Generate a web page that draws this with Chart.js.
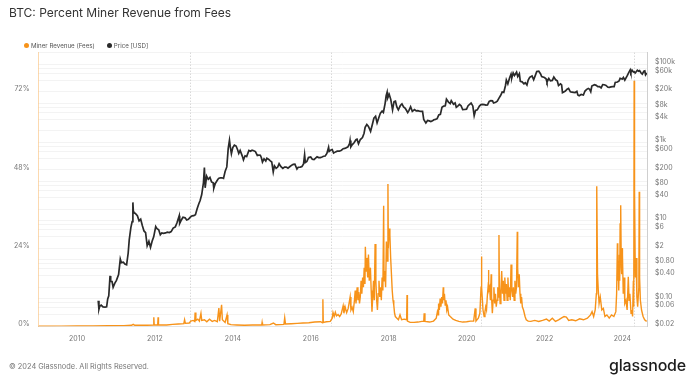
<!DOCTYPE html>
<html>
<head>
<meta charset="utf-8">
<script src="https://cdn.jsdelivr.net/npm/chart.js@4.4.1/dist/chart.umd.min.js"></script>
<style>
  html, body { margin: 0; padding: 0; background: #fff; }
  #wrap { position: relative; width: 695px; height: 380px; overflow: hidden; font-family: Inter, "Noto Sans", sans-serif; }
  #c { position: absolute; left: 0; top: 0; }
  #title { position: absolute; left: 9px; top: 5px; font-size: 12px; color: #333; white-space: nowrap; }
  #legend { position: absolute; left: 24px; top: 42px; font-size: 6.2px; color: #555; white-space: nowrap; display: flex; gap: 12px; }
  #legend span.item { display: flex; align-items: center; gap: 2px; }
  #legend span.dot { display: inline-block; width: 5px; height: 5px; border-radius: 50%; }
  #footer { position: absolute; left: 9px; top: 362px; font-size: 7.4px; color: #777; white-space: nowrap; }
  #logo { position: absolute; right: 9px; top: 355px; font-size: 16px; font-weight: 500; color: #1c1c1c; letter-spacing: -0.2px; white-space: nowrap; }
</style>
</head>
<body>
<div id="wrap">
  <canvas id="c" width="695" height="380"></canvas>
  <div id="title">BTC: Percent Miner Revenue from Fees</div>
  <div id="legend"></div>
  <div id="footer">© 2024 Glassnode. All Rights Reserved.</div>
  <div id="logo">glassnode</div>
</div>
<script>
// ---------- DATA ----------
const seriesNames = ["Miner Revenue (Fees)", "Price [USD]"];

// Miner revenue share from fees (%), by decimal year
const feeTimes = [
 2009.01,2009.30,2009.60,2010.00,2010.40,2010.80,2011.20,2011.40,2011.44,2011.48,2011.80,2011.96,2011.97,2011.98,
 2012.07,2012.08,2012.09,2012.30,2012.45,2012.60,2012.74,2012.76,2012.78,2012.88,2012.92,2012.98,
 2013.02,2013.03,2013.05,2013.10,2013.14,2013.18,2013.20,2013.27,2013.33,2013.40,2013.47,2013.53,2013.60,2013.64,2013.66,
 2013.71,2013.73,2013.80,2013.85,2013.87,2013.95,2014.10,2014.30,2014.50,2014.74,2014.75,2014.76,2014.95,
 2015.04,2015.10,2015.31,2015.33,2015.35,2015.50,2015.65,2015.80,2015.95,2016.10,2016.25,2016.30,2016.31,2016.32,2016.40,
 2016.50,2016.55,2016.57,2016.60,2016.63,2016.66,2016.70,2016.74,2016.78,2016.83,2016.85,2016.88,2016.92,2016.96,
 2017.01,2017.03,2017.06,2017.09,2017.12,2017.14,2017.16,2017.19,2017.21,2017.23,2017.25,2017.27,2017.29,2017.31,
 2017.33,2017.35,2017.37,2017.39,2017.40,2017.42,2017.44,2017.46,2017.48,2017.50,2017.53,2017.55,2017.57,2017.59,
 2017.61,2017.63,2017.65,2017.67,2017.69,2017.71,2017.73,2017.75,2017.77,2017.79,2017.81,2017.83,2017.85,2017.87,
 2017.88,2017.90,2017.92,2017.94,2017.96,2017.98,2017.99,2018.01,2018.03,2018.05,2018.07,2018.09,2018.11,2018.13,
 2018.15,2018.17,2018.21,2018.25,2018.29,2018.33,2018.40,2018.46,2018.47,2018.48,2018.55,2018.65,2018.75,2018.85,
 2018.90,2018.91,2018.93,2019.05,2019.15,2019.22,2019.25,2019.27,2019.28,2019.30,2019.32,2019.34,2019.36,2019.38,
 2019.40,2019.41,2019.43,2019.45,2019.47,2019.49,2019.51,2019.54,2019.58,2019.65,2019.72,2019.80,2019.90,2020.00,
 2020.10,2020.18,2020.22,2020.24,2020.30,2020.34,2020.37,2020.38,2020.39,2020.42,2020.45,2020.47,2020.49,2020.51,
 2020.53,2020.55,2020.56,2020.57,2020.59,2020.61,2020.63,2020.64,2020.66,2020.68,2020.70,2020.72,2020.74,2020.76,
 2020.78,2020.80,2020.82,2020.83,2020.84,2020.86,2020.88,2020.90,2020.92,2020.94,2020.96,2020.98,2021.00,2021.02,
 2021.04,2021.06,2021.08,2021.10,2021.12,2021.14,2021.16,2021.18,2021.20,2021.22,2021.24,2021.26,2021.28,2021.30,
 2021.31,2021.33,2021.35,2021.37,2021.39,2021.41,2021.43,2021.46,2021.48,2021.50,2021.53,2021.58,2021.65,2021.75,
 2021.85,2021.95,2022.05,2022.12,2022.20,2022.28,2022.36,2022.44,2022.50,2022.56,2022.62,2022.70,2022.80,2022.90,
 2023.00,2023.10,2023.18,2023.22,2023.26,2023.30,2023.33,2023.34,2023.36,2023.38,2023.40,2023.43,2023.47,2023.51,
 2023.55,2023.60,2023.66,2023.72,2023.78,2023.83,2023.85,2023.87,2023.88,2023.89,2023.90,2023.91,2023.92,2023.93,
 2023.94,2023.95,2023.96,2023.97,2023.98,2023.99,2024.00,2024.02,2024.04,2024.06,2024.09,2024.12,2024.15,2024.17,
 2024.19,2024.22,2024.24,2024.26,2024.28,2024.29,2024.30,2024.31,2024.33,2024.35,2024.37,2024.39,2024.42,2024.43,
 2024.44,2024.46,2024.49,2024.53,2024.57,2024.62
];
const feeValues = [
 0.0,0.02,0.05,0.08,0.1,0.15,0.2,0.3,0.6,0.3,0.3,0.4,2.8,0.4,
 0.4,2.8,0.4,0.4,0.6,0.7,0.8,2.0,0.9,1.0,1.6,1.8,
 1.5,4.2,1.8,2.2,1.6,4.0,1.8,2.0,1.4,2.2,1.5,1.8,1.4,5.6,1.6,
 6.6,2.0,1.2,3.5,0.8,0.5,0.4,0.3,0.4,0.4,1.2,0.4,0.5,
 1.0,0.5,0.6,2.6,0.7,0.8,0.9,1.0,1.1,1.3,1.4,1.1,8.3,1.2,1.4,
 1.5,2.5,4.2,3.0,4.3,3.2,3.6,3.0,3.8,6.3,4.0,6.0,4.2,5.5,
 9.0,5.0,5.8,4.5,8.0,11.0,7.0,12.0,8.0,10.5,7.0,9.0,14.0,10.0,
 15.0,12.0,18.0,13.0,24.4,17.0,21.0,15.0,22.0,14.0,18.0,11.0,4.5,9.0,
 14.0,8.0,25.3,14.0,8.0,5.0,10.0,14.0,9.0,12.0,8.0,15.0,11.0,37.0,
 14.0,17.0,12.0,26.0,20.0,43.7,24.0,30.0,28.0,21.0,16.0,11.0,8.0,6.5,
 4.0,3.0,2.5,2.0,3.5,2.0,2.2,2.0,9.6,1.6,1.2,1.2,1.3,1.5,
 1.6,4.0,1.5,1.3,1.6,2.5,4.5,3.5,7.0,5.0,8.5,6.0,9.0,7.0,
 12.0,8.0,10.0,6.5,8.0,5.0,6.0,3.5,3.0,2.2,1.8,1.5,1.3,1.4,
 1.6,1.6,5.5,1.6,2.5,4.0,12.0,21.4,12.0,5.0,3.0,4.5,6.0,5.0,
 9.0,12.0,17.3,11.0,12.0,8.0,16.0,9.0,4.0,8.0,12.0,7.0,10.0,6.0,
 8.0,12.0,9.0,28.0,12.0,7.0,11.0,17.0,10.0,14.0,8.0,15.0,10.0,13.0,
 8.0,15.0,9.0,12.0,8.0,19.0,11.0,9.0,12.0,8.0,14.0,10.0,12.0,29.0,
 18.0,12.0,16.0,10.0,7.0,9.0,6.0,5.0,4.0,3.0,2.0,1.6,1.5,1.8,
 1.5,1.8,2.2,1.6,2.5,1.5,2.0,2.6,3.0,2.8,1.8,2.0,1.7,2.3,
 2.0,2.5,3.5,4.5,3.0,5.0,10.0,43.0,16.0,11.0,7.0,9.0,5.0,5.5,
 3.0,3.5,2.5,3.5,3.0,4.5,10.0,25.5,14.0,20.0,18.0,11.0,22.0,14.0,
 31.6,20.0,37.2,18.0,16.0,24.0,22.0,10.0,15.0,7.0,8.0,5.0,15.2,8.0,
 10.0,4.0,5.0,3.0,14.0,6.0,75.4,42.0,15.0,21.0,9.0,6.0,12.0,41.3,
 15.0,8.0,5.0,3.0,2.0,1.5
];

// BTC price (USD)
const priceDates = [
 "2010-07-18","2010-07-25","2010-08-01","2010-08-15","2010-09-01","2010-09-20","2010-10-05","2010-10-15","2010-10-25","2010-11-06",
 "2010-11-12","2010-11-25","2010-12-05","2010-12-20","2011-01-05","2011-01-25","2011-02-10","2011-02-20","2011-03-10","2011-03-25",
 "2011-04-10","2011-04-25","2011-05-05","2011-05-20","2011-06-01","2011-06-08","2011-06-12","2011-06-20","2011-07-01","2011-07-20",
 "2011-08-05","2011-08-20","2011-09-05","2011-09-20","2011-10-05","2011-10-20","2011-11-05","2011-11-20","2011-12-05","2011-12-20",
 "2012-01-08","2012-01-20","2012-02-05","2012-02-20","2012-03-05","2012-03-20","2012-04-10","2012-04-25","2012-05-15","2012-06-01",
 "2012-06-20","2012-07-10","2012-07-25","2012-08-16","2012-08-20","2012-09-05","2012-09-20","2012-10-10","2012-10-25","2012-11-10",
 "2012-11-28","2012-12-15","2012-12-31","2013-01-15","2013-01-31","2013-02-15","2013-02-28","2013-03-15","2013-03-31","2013-04-09",
 "2013-04-16","2013-04-30","2013-05-15","2013-05-31","2013-06-15","2013-06-30","2013-07-06","2013-07-20","2013-08-05","2013-08-20",
 "2013-09-05","2013-09-20","2013-10-05","2013-10-20","2013-11-05","2013-11-18","2013-11-30","2013-12-07","2013-12-18","2013-12-31",
 "2014-01-15","2014-01-31","2014-02-15","2014-02-25","2014-03-10","2014-03-31","2014-04-10","2014-04-25","2014-05-10","2014-05-31",
 "2014-06-15","2014-06-30","2014-07-15","2014-07-31","2014-08-18","2014-08-31","2014-09-15","2014-09-25","2014-10-05","2014-10-20",
 "2014-11-05","2014-11-15","2014-11-30","2014-12-15","2014-12-31","2015-01-14","2015-01-25","2015-02-10","2015-02-25","2015-03-10",
 "2015-03-25","2015-04-14","2015-04-30","2015-05-15","2015-06-01","2015-06-20","2015-07-10","2015-07-20","2015-08-05","2015-08-24",
 "2015-09-05","2015-09-25","2015-10-10","2015-10-25","2015-11-04","2015-11-11","2015-11-25","2015-12-10","2015-12-31","2016-01-15",
 "2016-01-31","2016-02-15","2016-02-29","2016-03-15","2016-03-31","2016-04-15","2016-04-30","2016-05-15","2016-05-31","2016-06-16",
 "2016-06-22","2016-07-09","2016-07-20","2016-08-02","2016-08-20","2016-09-05","2016-09-25","2016-10-15","2016-10-31","2016-11-15",
 "2016-11-30","2016-12-15","2016-12-31","2017-01-04","2017-01-11","2017-01-25","2017-02-10","2017-02-28","2017-03-10","2017-03-24",
 "2017-04-10","2017-04-30","2017-05-15","2017-05-25","2017-06-10","2017-06-25","2017-07-15","2017-07-31","2017-08-15","2017-08-31",
 "2017-09-14","2017-09-30","2017-10-15","2017-10-31","2017-11-12","2017-11-28","2017-12-08","2017-12-17","2017-12-22","2018-01-06",
 "2018-01-20","2018-02-06","2018-02-20","2018-03-05","2018-03-18","2018-04-01","2018-04-20","2018-05-05","2018-05-20","2018-06-05",
 "2018-06-28","2018-07-10","2018-07-25","2018-08-10","2018-08-31","2018-09-15","2018-09-30","2018-10-15","2018-10-31","2018-11-14",
 "2018-11-25","2018-12-15","2018-12-31","2019-01-15","2019-01-31","2019-02-15","2019-02-28","2019-03-15","2019-03-31","2019-04-15",
 "2019-04-30","2019-05-15","2019-05-31","2019-06-15","2019-06-26","2019-07-15","2019-07-31","2019-08-10","2019-08-31","2019-09-15",
 "2019-09-26","2019-10-10","2019-10-26","2019-11-10","2019-11-25","2019-12-15","2019-12-31","2020-01-15","2020-02-12","2020-02-28",
 "2020-03-12","2020-03-25","2020-04-10","2020-04-30","2020-05-15","2020-05-31","2020-06-15","2020-06-30","2020-07-15","2020-07-31",
 "2020-08-15","2020-08-31","2020-09-10","2020-09-30","2020-10-15","2020-10-31","2020-11-15","2020-11-30","2020-12-15","2020-12-31",
 "2021-01-08","2021-01-22","2021-02-08","2021-02-21","2021-02-28","2021-03-13","2021-03-25","2021-04-14","2021-04-25","2021-05-10",
 "2021-05-19","2021-06-05","2021-06-22","2021-07-05","2021-07-20","2021-08-01","2021-08-15","2021-09-06","2021-09-21","2021-10-05",
 "2021-10-20","2021-11-08","2021-11-25","2021-12-05","2021-12-31","2022-01-15","2022-01-24","2022-02-10","2022-02-25","2022-03-15",
 "2022-03-29","2022-04-15","2022-04-30","2022-05-12","2022-05-31","2022-06-10","2022-06-18","2022-06-30","2022-07-15","2022-07-31",
 "2022-08-14","2022-08-31","2022-09-15","2022-09-30","2022-10-15","2022-10-31","2022-11-09","2022-11-21","2022-12-10","2022-12-31",
 "2023-01-15","2023-01-31","2023-02-15","2023-02-28","2023-03-10","2023-03-20","2023-04-14","2023-04-30","2023-05-15","2023-05-31",
 "2023-06-15","2023-06-30","2023-07-15","2023-07-31","2023-08-18","2023-08-31","2023-09-15","2023-09-30","2023-10-15","2023-10-25",
 "2023-11-15","2023-11-30","2023-12-10","2023-12-31","2024-01-10","2024-01-23","2024-02-15","2024-02-29","2024-03-14","2024-03-20",
 "2024-03-31","2024-04-13","2024-04-20","2024-04-30","2024-05-20","2024-05-31","2024-06-10","2024-06-24","2024-07-05","2024-07-20",
 "2024-07-29","2024-08-05","2024-08-14","2024-08-18"
];
const priceValues = [
 0.09,0.055,0.065,0.07,0.063,0.062,0.063,0.10,0.12,0.39,
 0.28,0.28,0.20,0.25,0.30,0.42,1.05,0.85,0.87,0.78,
 0.75,1.5,3.3,6.7,9.5,29.6,18,16,15.4,13.5,
 10,11,7.5,5.5,5.0,2.3,3.0,2.1,3.0,3.9,
 7.1,6.3,5.9,4.4,4.9,4.8,4.9,5.1,5.0,5.3,
 6.5,7.0,8.8,13.5,8.5,10.5,12.3,11.9,10.5,10.9,
 12.4,13.4,13.5,14.3,20.4,27,33,47,93,230,
 70,139,115,129,99,94,68,90,106,122,
 126,126,122,183,239,700,1150,800,520,750,
 860,820,650,530,630,445,360,460,440,630,
 600,640,620,590,470,480,475,410,320,385,
 340,400,378,345,320,178,255,220,237,291,
 247,219,236,237,223,245,270,278,280,211,
 235,236,245,285,490,310,330,415,430,375,
 370,400,437,416,416,430,448,456,530,760,
 595,650,665,540,580,605,605,640,700,710,
 745,780,960,1130,780,890,990,1190,1230,930,
 1200,1350,1740,2450,2900,2600,1950,2870,4200,4700,
 3200,4340,5700,6400,5900,10000,16000,19500,13800,17100,
 12800,6900,11200,11500,8200,6900,8900,9800,8200,7600,
 5900,6700,8300,6300,7000,6500,6600,6400,6300,6300,
 3900,3200,3700,3600,3450,3600,3850,3950,4100,5100,
 5300,8000,8600,8800,12900,10900,10000,11800,9600,10300,
 8000,8600,9500,8800,7000,7100,7200,8800,10300,8700,
 4900,6700,6900,8600,9400,9500,9400,9100,9200,11300,
 11900,11700,10300,10800,11500,13800,16000,19700,19300,29000,
 40000,32000,46000,57000,45000,61000,52000,63500,49000,58000,
 37000,36000,32000,34000,29800,40000,47000,51000,40600,51000,
 66000,67500,57000,49000,46300,43000,35000,44000,38000,39000,
 47500,40500,38000,28900,31800,30000,19000,19800,20800,23300,
 24400,20000,19700,19400,19100,20500,16600,15800,17100,16500,
 20900,23100,24400,23100,20100,28000,30400,29200,27200,27200,
 25100,30500,30300,29200,26100,25900,26600,27000,27100,34500,
 35500,37700,44000,42300,46600,39500,51800,62000,73000,62000,
 71300,64000,64900,60600,71000,67500,69600,60300,56700,67000,
 68200,54000,58700,58900
];

// Halving dates (dotted vertical markers)
const halvingDates = ["2012-11-28","2016-07-09","2020-05-11","2024-04-20"];

// Axis ticks
const xTickYears = [2010,2012,2014,2016,2018,2020,2022,2024];
const pctGridValues = [0,12,24,36,48,60,72,84];
const pctLabelValues = [0,24,48,72];
const priceGridValues = [0.02,0.04,0.06,0.08,0.1,0.2,0.4,0.6,0.8,1,2,4,6,8,10,20,40,60,80,100,200,400,600,800,1000,
  2000,4000,6000,8000,10000,20000,40000,60000,80000,100000,200000];
const priceLabelValues = [0.02,0.06,0.1,0.4,0.8,2,6,10,40,80,200,600,1000,4000,8000,20000,60000,100000];

// ---------- HELPERS ----------
function toYear(s) {
  const d = Date.parse(s + "T00:00:00Z");
  const y = parseInt(s.slice(0, 4), 10);
  const a = Date.UTC(y, 0, 1), b = Date.UTC(y + 1, 0, 1);
  return y + (d - a) / (b - a);
}
function fmtPrice(v) {
  if (v >= 1000) return "$" + (v / 1000) + "k";
  if (v < 1) return "$" + v.toFixed(2);
  return "$" + v;
}
const ORANGE = "#f7931a";
const DARK = "#2a2a2a";

const feeData = feeTimes.map((t, i) => ({ x: t, y: feeValues[i] }));
const priceData = priceDates.map((d, i) => ({ x: toYear(d), y: priceValues[i] }));

const halvingPlugin = {
  id: "halvings",
  beforeDatasetsDraw(chart) {
    const { ctx, chartArea, scales } = chart;
    ctx.save();
    ctx.strokeStyle = "#c8c8c8";
    ctx.lineWidth = 1;
    ctx.setLineDash([1, 2]);
    halvingDates.forEach(d => {
      const px = Math.round(scales.x.getPixelForValue(toYear(d))) + 0.5;
      ctx.beginPath();
      ctx.moveTo(px, chartArea.top);
      ctx.lineTo(px, chartArea.bottom);
      ctx.stroke();
    });
    ctx.restore();
  }
};

const tickFont = { family: "Inter", size: 7 };

const chart = new Chart(document.getElementById("c"), {
  type: "line",
  data: {
    datasets: [
      { label: seriesNames[0], data: feeData, yAxisID: "y", borderColor: ORANGE, backgroundColor: ORANGE,
        borderWidth: 1.4, pointRadius: 0, tension: 0, order: 2 },
      { label: seriesNames[1], data: priceData, yAxisID: "y1", borderColor: DARK, backgroundColor: DARK,
        borderWidth: 1.7, pointRadius: 0, tension: 0, order: 1 }
    ]
  },
  options: {
    responsive: false,
    animation: false,
    devicePixelRatio: 1,
    layout: { padding: { top: 52.7, left: 0, right: 0, bottom: 0 } },
    plugins: { legend: { display: false }, title: { display: false }, tooltip: { enabled: false } },
    scales: {
      x: {
        type: "linear",
        min: 2009.01,
        max: 2024.63,
        afterBuildTicks: s => { s.ticks = xTickYears.map(v => ({ value: v })); },
        afterFit: s => { s.height = 53.7; },
        grid: { display: false, drawTicks: false },
        border: { display: true, color: "#e3e3e3" },
        ticks: { font: tickFont, color: "#777", padding: 8, maxRotation: 0, autoSkip: false,
          callback: v => String(v) }
      },
      y: {
        type: "linear",
        position: "left",
        min: 0,
        max: 84,
        afterBuildTicks: s => { s.ticks = pctGridValues.map(v => ({ value: v })); },
        afterFit: s => { s.width = 38.5; },
        grid: { color: "#e6e6e6", drawTicks: false },
        border: { display: true, color: "rgba(247,147,26,0.35)" },
        ticks: { font: tickFont, color: "#777", padding: 9, labelOffset: -2.5, autoSkip: false,
          callback: v => pctLabelValues.includes(v) ? v + "%" : "" }
      },
      y1: {
        type: "logarithmic",
        position: "right",
        min: 0.02,
        max: 200000,
        afterBuildTicks: s => { s.ticks = priceGridValues.map(v => ({ value: v })); },
        afterFit: s => { s.width = 48; },
        grid: { color: "#f3f3f3", drawTicks: false },
        border: { display: true, color: "#cfcfcf" },
        ticks: { font: tickFont, color: "#777", padding: 8, labelOffset: -2.5, autoSkip: false,
          callback: v => priceLabelValues.includes(v) ? fmtPrice(v) : "" }
      }
    }
  },
  plugins: [halvingPlugin]
});

// HTML legend built from the chart's datasets
const leg = document.getElementById("legend");
chart.data.datasets.forEach(ds => {
  const it = document.createElement("span");
  it.className = "item";
  const dot = document.createElement("span");
  dot.className = "dot";
  dot.style.background = ds.borderColor;
  const tx = document.createElement("span");
  tx.textContent = ds.label;
  it.appendChild(dot); it.appendChild(tx);
  leg.appendChild(it);
});
</script>
</body>
</html>
